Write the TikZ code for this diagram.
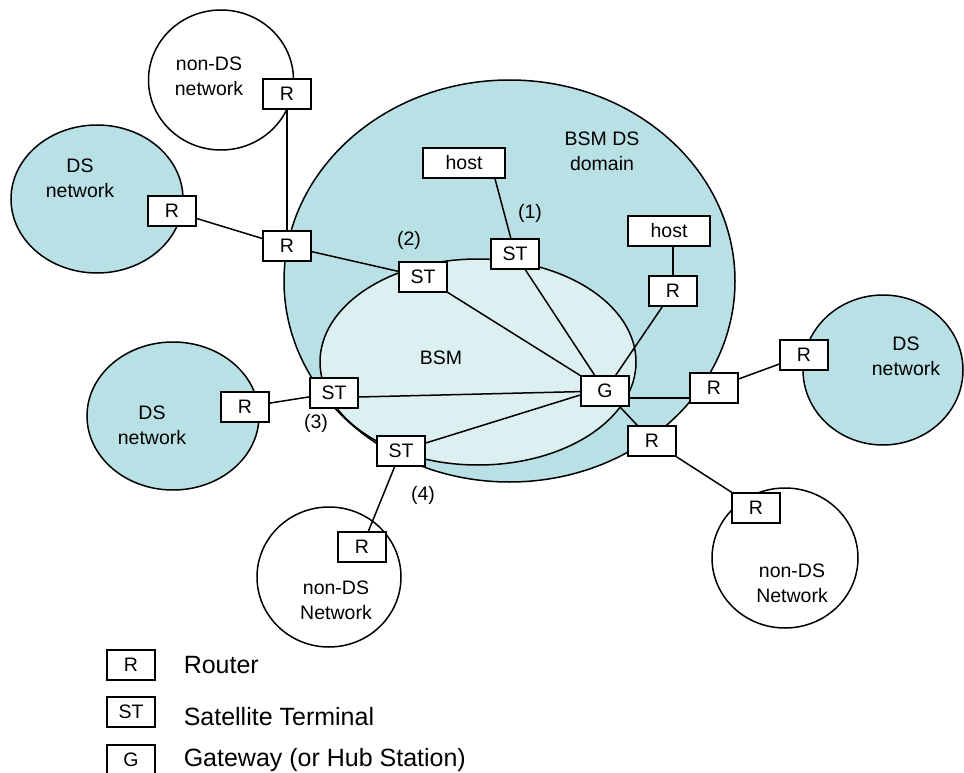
\documentclass[tikz,border=0pt]{standalone}
\usepackage{fontspec}
\setmainfont{Liberation Sans}
\definecolor{domainfill}{HTML}{B9E0E4}
\definecolor{bsmfill}{HTML}{DCEFF1}
\begin{document}
\begin{tikzpicture}[x=1pt,y=-1pt,line width=1.5pt,
  box/.style={draw,fill=white,minimum width=48pt,minimum height=30pt,inner sep=0pt,
    font=\fontsize{19.5}{23}\selectfont},
  hostbox/.style={box,minimum width=82pt},
  lbl/.style={font=\fontsize{19.5}{25}\selectfont,align=center,inner sep=0pt},
  legtext/.style={font=\fontsize{25}{29}\selectfont,anchor=west,inner sep=0pt},
  dsnet/.style={draw,fill=domainfill},
  nondsnet/.style={draw,fill=white}]
\useasboundingbox (0,0) rectangle (964,773);

% BSM DS domain with the BSM inside it
\fill[domainfill] (509.5,281) ellipse [x radius=225.5,y radius=201];
\draw[fill=bsmfill] (478,362) ellipse [x radius=158,y radius=103];
\begin{scope}[even odd rule]
  \clip (-20,-20) rectangle (990,800)
    (478,362) ellipse [x radius=158,y radius=103];
  \draw (509.5,281) ellipse [x radius=225.5,y radius=201];
\end{scope}

% attached networks
\draw[nondsnet] (221,80) ellipse [x radius=72.5,y radius=70];
\draw[dsnet] (97,199) ellipse [x radius=86,y radius=74];
\draw[dsnet] (173,416) ellipse [x radius=86,y radius=74];
\draw[dsnet] (883,370) ellipse [x radius=80,y radius=75];
\draw[nondsnet] (329,577) ellipse [x radius=72,y radius=70];
\draw[nondsnet] (785,558) ellipse [x radius=73,y radius=70];

% area labels
\node[lbl] (tnd1) at (209,76) {non-DS\\network};
\node[lbl] (tds1) at (80,178) {DS\\network};
\node[lbl] (tds2) at (152,425) {DS\\network};
\node[lbl] (tds3) at (906,356) {DS\\network};
\node[lbl] (tnd2) at (336,600) {non-DS\\Network};
\node[lbl] (tnd3) at (792,583) {non-DS\\Network};
\node[lbl] (tdom) at (602,151) {BSM DS\\domain};
\node[lbl] (tbsm) at (441,358) {BSM};

% equipment
\node[box] (rtop) at (287,94) {R};
\node[box] (rdsl) at (172,211) {R};
\node[box] (rjunc) at (287,246) {R};
\node[box] (st2) at (423,277) {ST};
\node[hostbox] (host1) at (464,163) {host};
\node[box] (st1) at (515,254) {ST};
\node[hostbox] (host2) at (669,231) {host};
\node[box] (rin) at (673,291) {R};
\node[box] (g) at (605,391) {G};
\node[box] (rdom) at (714,388) {R};
\node[box] (rdsr) at (804,355) {R};
\node[box] (rlow) at (652,441) {R};
\node[box] (rnd3) at (756,508) {R};
\node[box] (st3) at (334,393) {ST};
\node[box] (rds2) at (245,407) {R};
\node[box] (st4) at (401,451) {ST};
\node[box] (rnd2) at (362,547) {R};

% links
\draw (rtop) -- (rjunc);
\draw (rdsl) -- (rjunc);
\draw (rjunc) -- (st2);
\draw ([xshift=31pt]host1.south) -- (st1);
\draw (rin.north) -- (rin.north |- host2.south);
\draw (st2) -- (g);
\draw (st1) -- (g);
\draw (rin) -- (g);
\draw ([yshift=-4pt]st3.east) -- (g);
\draw ([yshift=8pt]st4.east) -- ([yshift=-4pt]g.west);
\draw (rds2) -- (st3);
\draw (st4) -- (rnd2);
\draw ([yshift=-7pt]g.east) -- ([yshift=-10pt]rdom.west);
\draw (g) -- (rlow);
\draw (rlow) -- (rnd3);
\draw (rdom) -- (rdsr);

% path labels
\node[lbl] (p1) at (530,213) {(1)};
\node[lbl] (p2) at (409,240) {(2)};
\node[lbl] (p3) at (316,423) {(3)};
\node[lbl] (p4) at (423,495) {(4)};

% legend
\node[box] (kr) at (131,665) {R};
\node[box] (kst) at (131,712) {ST};
\node[box] (kg) at (131,760) {G};
\node[legtext] (lr) at (183,665) {Router};
\node[legtext] (lst) at (183,717) {Satellite Terminal};
\node[legtext] (lg) at (183,760) {Gateway (or Hub Station)};
\end{tikzpicture}
\end{document}
